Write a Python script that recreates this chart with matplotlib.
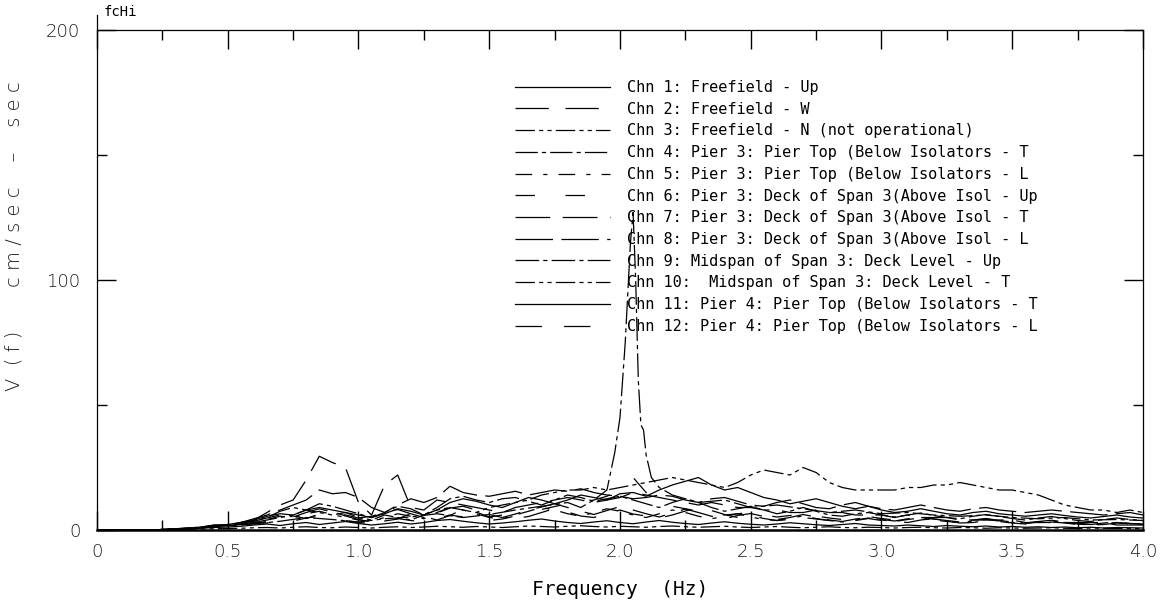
import numpy as np
import matplotlib
matplotlib.use("Agg")
import matplotlib.pyplot as plt
from matplotlib.ticker import MultipleLocator

plt.rcParams['lines.scale_dashes'] = False

# frequency grid (Hz) shared by most channels
freq = np.linspace(0, 4, 81)

chn1 = [0, 0, 0, 0, 0, 0.1, 0.3, 0.5, 0.8, 1.0, 1.2,
        1.5, 2.0, 2.4, 1.8, 2.5, 3.0, 2.2, 2.8, 3.4, 2.6,
        2.0, 2.5, 3.1, 2.4, 3.0, 3.8, 4.2, 3.5, 2.9, 2.4,
        2.8, 3.3, 3.9, 4.4, 3.6, 3.0, 2.6, 3.2, 3.7, 3.0,
        2.5, 3.2, 3.8, 3.1, 2.6, 2.2, 2.8, 3.3, 2.7, 2.3,
        2.0, 2.4, 2.9, 2.5, 2.1, 1.8, 2.2, 2.6, 2.0, 1.8,
        1.6, 2.0, 1.7, 1.4, 1.8, 1.5, 1.3, 1.6, 1.2, 1.4,
        1.1, 1.3, 1.0, 1.2, 0.9, 1.1, 0.8, 1.0, 0.9, 0.8]
chn2 = [0, 0, 0, 0, 0, 0.2, 0.4, 0.6, 1.0, 1.6, 2.0,
        2.8, 3.5, 4.8, 6.0, 5.2, 7.0, 8.5, 7.2, 6.0, 4.8,
        5.5, 7.0, 8.2, 6.5, 5.0, 6.8, 8.8, 9.5, 8.0, 6.2,
        5.0, 6.4, 8.0, 9.2, 10.5, 9.0, 7.5, 6.2, 7.8, 9.4,
        8.0, 6.5, 5.2, 6.8, 8.4, 7.0, 5.5, 4.5, 5.8, 6.6,
        5.4, 4.2, 5.0, 6.2, 5.2, 4.0, 3.4, 4.4, 5.0, 4.2,
        3.6, 4.5, 5.2, 4.4, 3.8, 3.2, 4.0, 4.6, 3.8, 3.2,
        2.8, 3.4, 3.9, 3.2, 2.6, 2.2, 2.8, 3.2, 2.6, 2.4]
chn3 = [0, 0, 0, 0, 0, 0.1, 0.2, 0.3, 0.4, 0.5, 0.6,
        0.7, 0.9, 1.0, 0.8, 1.1, 1.3, 1.0, 0.9, 1.2, 1.0,
        0.8, 1.1, 1.3, 1.0, 1.2, 1.5, 1.3, 1.1, 1.4, 1.2,
        1.0, 1.3, 1.6, 1.4, 1.2, 1.5, 1.7, 1.4, 1.2, 1.5,
        1.3, 1.1, 1.4, 1.6, 1.3, 1.1, 1.3, 1.5, 1.2, 1.0,
        1.2, 1.4, 1.1, 0.9, 1.1, 1.3, 1.0, 0.9, 1.1, 1.0,
        0.8, 1.0, 1.1, 0.9, 0.8, 1.0, 0.9, 0.7, 0.9, 0.8,
        0.7, 0.8, 0.9, 0.7, 0.6, 0.8, 0.7, 0.6, 0.7, 0.5]
chn4 = [0, 0, 0, 0, 0, 0.2, 0.5, 0.8, 1.2, 2.0, 1.8,
        2.5, 3.8, 5.0, 7.5, 9.0, 8.0, 10.5, 9.5, 8.0, 6.5,
        5.0, 7.0, 9.5, 8.5, 6.0, 9.0, 12.5, 13.5, 12.0, 11.0,
        12.5, 13.0, 11.5, 10.0, 12.0, 14.0, 13.0, 11.5, 12.5, 13.5,
        12.0, 10.5, 9.0, 11.0, 12.5, 11.0, 9.0, 7.5, 8.5, 9.5,
        8.0, 6.5, 7.5, 9.0, 7.5, 6.0, 5.5, 6.5, 7.0, 6.0,
        5.2, 6.0, 6.8, 5.8, 5.0, 4.5, 5.5, 6.2, 5.4, 4.6,
        4.0, 4.8, 5.4, 4.6, 3.8, 3.4, 4.2, 4.8, 4.2, 3.8]
chn5 = [0, 0, 0, 0, 0, 0.2, 0.4, 0.6, 1.0, 1.4, 1.8,
        2.2, 3.0, 4.2, 5.5, 4.8, 6.5, 7.5, 6.2, 5.0, 4.0,
        3.5, 5.0, 6.5, 5.5, 4.5, 7.0, 9.0, 8.0, 6.5, 5.0,
        4.5, 6.0, 7.5, 9.0, 8.0, 6.5, 5.5, 7.0, 8.5, 7.5,
        6.0, 5.0, 6.5, 8.0, 7.0, 5.5, 4.5, 5.5, 6.5, 5.2,
        4.2, 3.8, 4.8, 5.6, 4.6, 3.8, 3.2, 4.0, 4.8, 4.0,
        3.4, 4.2, 4.8, 4.0, 3.4, 3.0, 3.6, 4.2, 3.6, 3.0,
        2.6, 3.2, 3.6, 3.0, 2.4, 2.0, 2.6, 3.0, 2.4, 2.2]
chn6 = [0, 0, 0, 0, 0, 0.1, 0.3, 0.5, 0.8, 1.2, 1.5,
        2.0, 2.6, 3.4, 4.2, 3.6, 4.8, 5.5, 4.6, 3.8, 3.0,
        2.6, 3.6, 4.6, 3.8, 3.2, 4.6, 6.0, 5.2, 4.4, 3.8,
        4.4, 5.6, 7.0, 8.2, 9.4, 10.5, 11.0, 12.0, 13.5, 16.0,
        21.0, 15.0, 11.0, 9.5, 8.5, 7.5, 6.8, 6.0, 6.5, 7.0,
        6.0, 5.2, 5.8, 6.4, 5.6, 4.8, 4.2, 4.8, 5.4, 4.6,
        4.0, 4.6, 5.0, 4.4, 3.8, 3.4, 4.0, 4.4, 3.8, 3.2,
        2.8, 3.2, 3.6, 3.0, 2.6, 2.2, 2.6, 3.0, 2.6, 2.4]
chn7 = [0, 0, 0, 0, 0, 0.2, 0.4, 0.7, 1.0, 1.5, 2.0,
        3.0, 4.0, 7.0, 10.0, 12.0, 20.0, 29.5, 27.0, 25.0, 11.0,
        6.0, 18.0, 22.0, 9.0, 8.0, 12.0, 11.0, 10.0, 9.0, 8.0,
        7.0, 9.0, 10.0, 11.0, 12.0, 13.0, 12.0, 11.0, 12.0, 13.0,
        15.0, 14.0, 13.0, 12.0, 11.0, 10.0, 11.0, 10.0, 9.0, 9.0,
        8.0, 8.0, 7.0, 7.0, 8.0, 7.0, 7.0, 6.0, 6.0, 6.0,
        5.0, 6.0, 5.0, 5.0, 5.0, 4.0, 4.0, 4.0, 4.0, 4.0,
        3.0, 3.0, 3.0, 3.0, 3.0, 3.0, 3.0, 2.0, 2.0, 2.0]
chn8 = [0, 0, 0, 0, 0, 0.2, 0.4, 0.7, 1.0, 1.5, 2.0,
        3.0, 4.5, 6.0, 8.0, 10.0, 12.0, 16.0, 14.5, 15.0, 13.0,
        9.0, 7.0, 10.0, 12.5, 11.0, 13.0, 17.5, 15.0, 14.0, 13.5,
        14.5, 15.5, 14.0, 15.0, 16.0, 15.5, 16.5, 15.0, 14.0, 13.5,
        12.5, 13.0, 14.0, 13.5, 12.0, 11.0, 12.5, 13.0, 11.5, 10.0,
        9.5, 11.0, 12.0, 10.5, 9.0, 8.5, 10.0, 11.0, 9.5, 8.5,
        8.0, 9.0, 10.0, 9.0, 8.0, 7.5, 8.5, 9.0, 8.0, 7.5,
        7.0, 7.5, 8.0, 7.5, 7.0, 6.5, 6.0, 6.5, 7.0, 6.0]
chn10 = [0, 0, 0, 0, 0, 0.2, 0.4, 0.7, 1.0, 1.5, 1.8,
         2.0, 3.0, 4.0, 5.0, 6.0, 8.0, 7.0, 6.0, 7.0, 5.0,
         4.0, 6.0, 5.0, 4.0, 6.0, 8.0, 9.0, 8.0, 7.0, 9.0,
         10.0, 11.0, 12.0, 14.0, 15.0, 16.0, 16.0, 17.0, 16.0, 17.0,
         18.0, 19.0, 20.0, 21.0, 20.0, 19.0, 18.0, 17.0, 19.0, 22.0,
         24.0, 23.0, 22.0, 25.0, 23.0, 19.0, 17.0, 16.0, 16.0, 16.0,
         16.0, 17.0, 17.0, 18.0, 18.0, 19.0, 18.0, 17.0, 16.0, 16.0,
         15.0, 14.0, 12.0, 10.0, 9.0, 8.0, 8.0, 7.0, 8.0, 7.0]
chn11 = [0, 0, 0, 0, 0, 0.2, 0.5, 0.8, 1.2, 2.0, 2.2,
         3.0, 4.0, 5.5, 6.5, 6.0, 8.0, 9.0, 8.0, 7.0, 6.0,
         5.0, 6.5, 8.5, 7.5, 6.0, 8.0, 11.0, 12.5, 11.5, 10.0,
         9.0, 11.0, 13.0, 12.0, 10.5, 12.0, 14.0, 13.0, 12.0, 14.5,
         15.0, 13.5, 16.0, 18.0, 19.5, 21.0, 18.0, 16.0, 17.0, 15.0,
         13.0, 12.0, 10.5, 11.5, 12.5, 11.0, 9.5, 8.5, 9.5, 8.0,
         7.0, 7.5, 8.5, 7.5, 6.5, 6.0, 7.0, 7.5, 6.5, 6.0,
         5.5, 6.0, 6.5, 5.8, 5.2, 4.8, 5.4, 6.0, 5.2, 4.8]
chn12 = [0, 0, 0, 0, 0, 0.1, 0.3, 0.6, 0.9, 1.4, 1.6,
         2.2, 3.2, 2.8, 4.0, 5.6, 4.6, 6.4, 7.4, 5.6, 4.2,
         5.0, 3.6, 4.4, 6.6, 5.4, 4.0, 5.8, 8.4, 7.2, 5.2,
         6.0, 4.6, 5.4, 7.0, 8.6, 7.2, 5.6, 5.0, 6.6, 8.0,
         6.4, 5.6, 4.8, 6.0, 7.6, 9.0, 7.8, 6.2, 5.0, 5.8,
         4.6, 3.8, 4.2, 5.0, 4.4, 3.8, 3.2, 3.8, 4.6, 3.8,
         3.4, 3.0, 4.0, 4.6, 3.6, 2.8, 3.0, 3.8, 3.4, 2.8,
         2.4, 2.6, 3.2, 2.8, 2.2, 2.0, 2.2, 2.8, 2.4, 2.0]

# channel 9 has its own, finer sampling around the 2.05 Hz peak
freq9 = [0, 0.2, 0.3, 0.4, 0.5, 0.6, 0.7, 0.8, 0.9, 1.0, 1.1, 1.2, 1.3,
         1.4, 1.5, 1.6, 1.7, 1.8, 1.85, 1.9, 1.95, 1.98, 2.0, 2.02, 2.04,
         2.05, 2.06, 2.07, 2.08, 2.09, 2.1, 2.12, 2.15, 2.2, 2.3, 2.4,
         2.5, 2.6, 2.7, 2.8, 2.9, 3.0, 3.1, 3.2, 3.3, 3.4, 3.5, 3.6, 3.7,
         3.8, 3.9, 4.0]
chn9 = [0, 0, 0.4, 1.0, 1.8, 2.4, 3.5, 5.0, 4.2, 3.2, 4.5, 5.2, 6.5,
        5.0, 6.2, 8.0, 9.5, 11.0, 9.0, 12.0, 16.0, 31.0, 45.0, 75.0, 115.0,
        127.0, 100.0, 60.0, 42.0, 40.0, 30.0, 21.0, 17.0, 14.0, 11.0, 12.0,
        9.0, 10.0, 8.5, 7.0, 8.0, 6.5, 7.0, 6.0, 5.5, 6.0, 5.0, 4.5, 5.0,
        4.0, 4.2, 3.8]

labels = ["Chn 1: Freefield - Up",
          "Chn 2: Freefield - W",
          "Chn 3: Freefield - N (not operational)",
          "Chn 4: Pier 3: Pier Top (Below Isolators - T",
          "Chn 5: Pier 3: Pier Top (Below Isolators - L",
          "Chn 6: Pier 3: Deck of Span 3(Above Isol - Up",
          "Chn 7: Pier 3: Deck of Span 3(Above Isol - T",
          "Chn 8: Pier 3: Deck of Span 3(Above Isol - L",
          "Chn 9: Midspan of Span 3: Deck Level - Up",
          "Chn 10:  Midspan of Span 3: Deck Level - T",
          "Chn 11: Pier 4: Pier Top (Below Isolators - T",
          "Chn 12: Pier 4: Pier Top (Below Isolators - L"]

xs = [freq, freq, freq, freq, freq, freq, freq, freq, freq9, freq, freq, freq]
ys = [chn1, chn2, chn3, chn4, chn5, chn6, chn7, chn8, chn9, chn10, chn11, chn12]
styles = ['-',
          (0, (24, 12)),
          (0, (14, 3, 3, 3, 3, 3)),
          (0, (16, 3, 3, 3)),
          (0, (12, 8, 3, 8)),
          (0, (14, 22)),
          (0, (25, 9)),
          (0, (27, 6)),
          (0, (17, 3, 3, 3)),
          (0, (14, 3, 3, 3, 3, 3)),
          '-',
          (0, (19, 16))]

mono = 'DejaVu Sans Mono'

fig = plt.figure(figsize=(11.63, 6.06), dpi=100)
ax = fig.add_axes([0.0834, 0.1254, 0.8994, 0.8251])

for x, y, ls, lab in zip(xs, ys, styles, labels):
    ax.plot(x, y, color='black', linewidth=0.9, linestyle=ls, label=lab)

ax.set_xlim(0, 4)
ax.set_ylim(0, 200)
ax.set_xticks([0, 0.5, 1.0, 1.5, 2.0, 2.5, 3.0, 3.5, 4.0])
ax.set_xticklabels(['0', '0.5', '1.0', '1.5', '2.0', '2.5', '3.0', '3.5', '4.0'])
ax.xaxis.set_minor_locator(MultipleLocator(0.25))
ax.yaxis.set_major_locator(MultipleLocator(100))
ax.yaxis.set_minor_locator(MultipleLocator(50))
ax.tick_params(which='both', direction='in', top=True, right=True,
               width=1, color='black')
ax.tick_params(which='major', length=14, labelsize=13, pad=9)
ax.tick_params(axis='y', which='major', pad=12)
ax.tick_params(which='minor', length=7)
for lbl in ax.get_xticklabels() + ax.get_yticklabels():
    lbl.set_fontweight('light')
    lbl.set_color('#1a1a1a')

for s in ax.spines.values():
    s.set_linewidth(0.9)
ax.spines['bottom'].set_linewidth(1.8)
ax.spines['left'].set_bounds(0, 206)

ax.text(0.006, 1.035, 'fcHi', transform=ax.transAxes, fontsize=10,
        family=mono, va='center', ha='left')

fig.text(0.533, 0.027, 'Frequency  (Hz)', fontsize=14, family=mono,
         ha='center', va='center')
fig.text(0.012, 0.61, 'V  ( f )       c m / s e c    \u2013    s e c',
         rotation=90, fontsize=14, fontweight='light', color='#1a1a1a',
         ha='center', va='center')

ax.legend(loc='upper left', bbox_to_anchor=(0.3996, 0.9), frameon=False,
          borderpad=0, borderaxespad=0, handlelength=6.2, handletextpad=1.15,
          labelspacing=0.44, prop={'family': mono, 'size': 11})

fig.savefig('out.png', dpi=100)
